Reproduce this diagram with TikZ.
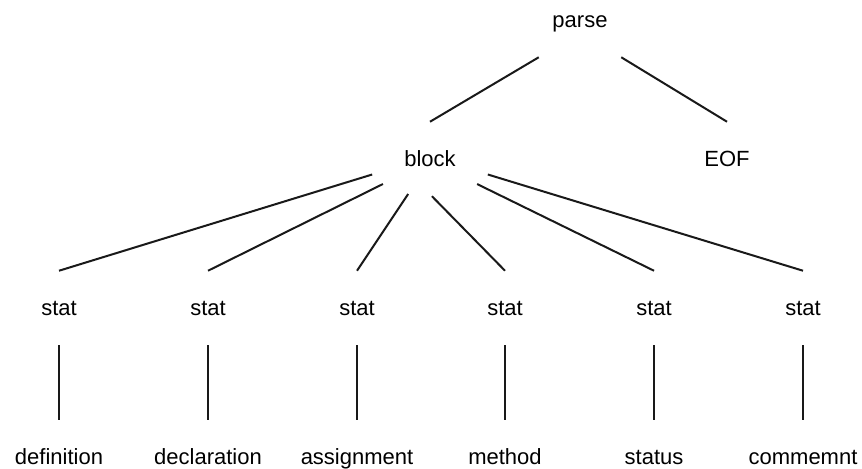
\documentclass[tikz,border=0pt]{standalone}
\usepackage{fontspec}
\setmainfont{Liberation Sans}
\usetikzlibrary{positioning,shapes.geometric}

\begin{document}
\begin{tikzpicture}[x=0.75pt, y=-0.75pt,
    main/.style = {rectangle, minimum height=55.5pt, inner sep=0pt, text height=13.5pt, text depth=3pt, font=\fontsize{16.5}{19}\selectfont},
    edge/.style = {line width=1.5pt, draw=black!90}]
    \useasboundingbox (0,0) rectangle (862,468);

    \node[main, minimum width=61.5pt] (parse) at (580,20) {parse};
    \node[main, ellipse, minimum width=95pt] (block) at (430,159) {block};
    \node[main] (eof) at (727,159) {EOF};

    \path[edge] (parse.south west) -- (block.north);
    \path[edge] (parse.south east) -- (eof.north);

    \node[main] (s1) at (59,308) {stat};
    \node[main] (s2) at (208,308) {stat};
    \node[main] (s3) at (357,308) {stat};
    \node[main] (s4) at (505,308) {stat};
    \node[main] (s5) at (654,308) {stat};
    \node[main] (s6) at (803,308) {stat};

    \path[edge] (block.195) -- (s1.north);
    \path[edge] (block.208) -- (s2.north);
    \path[edge] (block.238) -- (s3.north);
    \path[edge] (block.273) -- (s4.north);
    \path[edge] (block.332) -- (s5.north);
    \path[edge] (block.345) -- (s6.north);

    \node[main] (l1) [below=56pt of s1] {definition};
    \node[main] (l2) [below=56pt of s2] {declaration};
    \node[main] (l3) [below=56pt of s3] {assignment};
    \node[main] (l4) [below=56pt of s4] {method};
    \node[main] (l5) [below=56pt of s5] {status};
    \node[main] (l6) [below=56pt of s6] {commemnt};

    \path[edge] (s1) -- (l1);
    \path[edge] (s2) -- (l2);
    \path[edge] (s3) -- (l3);
    \path[edge] (s4) -- (l4);
    \path[edge] (s5) -- (l5);
    \path[edge] (s6) -- (l6);
\end{tikzpicture}
\end{document}
